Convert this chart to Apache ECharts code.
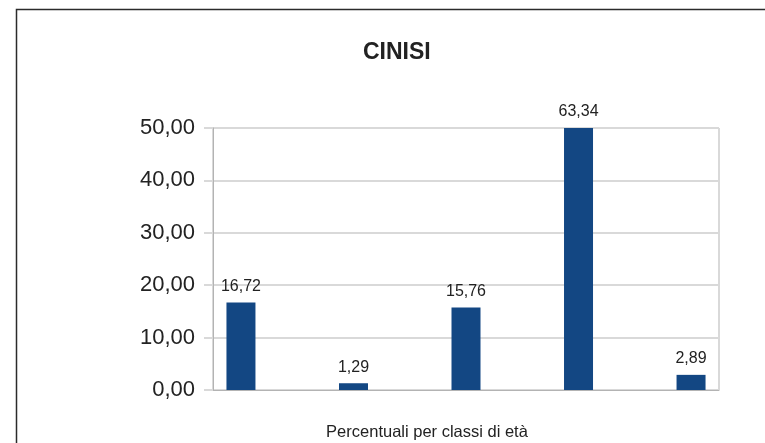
<!DOCTYPE html>
<html>
<head>
<meta charset="utf-8">
<script src="https://cdn.jsdelivr.net/npm/echarts@6/dist/echarts.min.js"></script>
<style>
  html, body { margin: 0; padding: 0; background: #fff; }
  #chart { width: 765px; height: 443px; }
</style>
</head>
<body>
<div id="chart"></div>
<script>
// dati del grafico
var categories = ['Percentuali per classi di età'];
var classNames = ['Classe 1', 'Classe 2', 'Classe 3', 'Classe 4', 'Classe 5'];
var values = [16.72, 1.29, 15.76, 63.34, 2.89];
var yMin = 0, yMax = 50, yStep = 10;

function fmt(v) {
  return v.toFixed(2).replace('.', ',');
}

var myChart = echarts.init(document.getElementById('chart'));

// una serie per classe, tutte nella stessa categoria
var series = values.map(function (v, i) {
  return {
    name: classNames[i],
    type: 'bar',
    barWidth: 29,
    barGap: '288%',
    data: [Math.min(v, yMax)],   // la barra oltre il massimo viene tagliata
    itemStyle: { color: '#134783' },
    label: {
      show: true,
      position: 'top',
      distance: 8,
      fontFamily: 'Liberation Sans',
      fontSize: 16,
      color: '#222',
      formatter: function () { return fmt(v); }
    }
  };
});

var option = {
  animation: false,
  title: {
    text: 'CINISI',
    left: 358,
    top: 36,
    textStyle: {
      fontFamily: 'Liberation Sans',
      fontSize: 23,
      fontWeight: 'bold',
      color: '#222'
    }
  },
  graphic: [{
    type: 'rect',
    shape: { x: 16.5, y: 9.5, width: 900, height: 600 },
    style: { fill: 'none', stroke: '#2b2b2b', lineWidth: 1.5 }
  }],
  grid: {
    left: 213, right: 46, top: 128, bottom: 53,
    show: true, borderColor: '#b3b3b3', borderWidth: 1
  },
  xAxis: {
    type: 'category',
    data: categories,
    axisLine: { lineStyle: { color: '#b3b3b3' } },
    axisTick: { show: false },
    axisLabel: {
      margin: 34,
      fontFamily: 'Liberation Sans',
      fontSize: 16.5,
      color: '#222',
      padding: [0, 78, 0, 0]
    }
  },
  yAxis: {
    type: 'value',
    min: yMin, max: yMax, interval: yStep,
    axisLine: { show: true, lineStyle: { color: '#b3b3b3' } },
    axisTick: { show: true, length: 9, lineStyle: { color: '#d9d9d9', width: 2 } },
    splitLine: { lineStyle: { color: '#d9d9d9', width: 2 } },
    axisLabel: {
      margin: 18,
      fontFamily: 'Liberation Sans',
      fontSize: 22,
      color: '#222',
      formatter: function (v) { return fmt(v); }
    }
  },
  series: series
};

myChart.setOption(option);
</script>
</body>
</html>
